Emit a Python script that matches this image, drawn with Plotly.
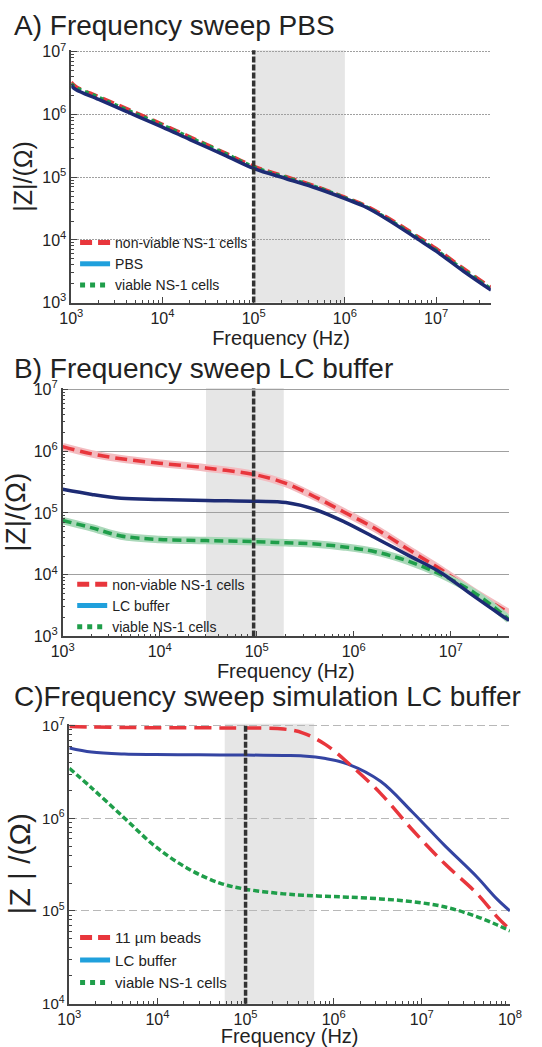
import plotly.graph_objects as go

# ---------------- data ----------------
# Panel A: Frequency sweep PBS
freq_a = [1e3, 1.12e3, 2e3, 4e3, 1e4, 2e4, 5e4, 1e5, 2.24e5, 5e5, 1e6, 1.6e6, 2.9e6, 6.5e6, 1e7, 2e7, 4e7]
za_nonviable = [3.3e6, 2.8e6, 1.93e6, 1.25e6, 7.0e5, 4.4e5, 2.4e5, 1.5e5, 1.03e5, 7.0e4, 4.8e4, 3.65e4, 2.3e4, 1.1e4, 7.3e3, 3.5e3, 1.75e3]
za_pbs = [2.88e6, 2.51e6, 1.74e6, 1.12e6, 6.31e5, 3.98e5, 2.19e5, 1.38e5, 9.55e4, 6.61e4, 4.57e4, 3.47e4, 2.14e4, 1.0e4, 6.61e3, 3.16e3, 1.58e3]
za_viable = [3.1e6, 2.7e6, 1.88e6, 1.2e6, 6.8e5, 4.3e5, 2.35e5, 1.46e5, 1.0e5, 6.9e4, 4.7e4, 3.55e4, 2.2e4, 1.05e4, 6.9e3, 3.35e3, 1.65e3]
shade_a = [1e5, 1e6]
marker_a = 1e5

# Panel B: Frequency sweep LC buffer
freq_b = [1e3, 2e3, 4e3, 1e4, 3e4, 1e5, 2e5, 4e5, 8e5, 1.7e6, 3.7e6, 8e6, 1.7e7, 3.2e7, 4e7]
zb_nonviable = [1.19e6, 9.06e5, 7.55e5, 6.41e5, 5.37e5, 4.12e5, 3.01e5, 1.82e5, 1.03e5, 5.5e4, 2.54e4, 1.2e4, 5.4e3, 2.95e3, 2.4e3]
zb_lc = [2.42e5, 2.0e5, 1.74e5, 1.66e5, 1.6e5, 1.55e5, 1.48e5, 1.14e5, 7.19e4, 3.89e4, 2.04e4, 1.07e4, 4.57e3, 2.29e3, 1.82e3]
zb_viable = [7.55e4, 5.75e4, 4.24e4, 3.72e4, 3.57e4, 3.43e4, 3.29e4, 3.14e4, 2.82e4, 2.34e4, 1.64e4, 1.0e4, 5.25e3, 2.51e3, 1.86e3]
shade_b = [3e4, 1.9e5]
marker_b = 9.3e4

# Panel C: Frequency sweep simulation LC buffer
freq_c = [1e3, 1.78e3, 4.2e3, 9.5e3, 2.2e4, 5.1e4, 1e5, 2.7e5, 4.5e5, 8.1e5, 1.45e6, 3.4e6, 7.8e6, 1.8e7, 4.2e7, 7.1e7, 1e8]
zc_beads = [9.77e6, 9.66e6, 9.55e6, 9.5e6, 9.48e6, 9.46e6, 9.44e6, 9.2e6, 8.32e6, 6.24e6, 3.98e6, 1.86e6, 7.52e5, 3.27e5, 1.55e5, 8.7e4, 6.3e4]
zc_lc = [5.74e6, 5.19e6, 4.94e6, 4.88e6, 4.85e6, 4.83e6, 4.82e6, 4.76e6, 4.71e6, 4.42e6, 3.85e6, 2.51e6, 1.17e6, 5.13e5, 2.34e5, 1.35e5, 1.0e5]
zc_viable = [3.47e6, 2.14e6, 1.01e6, 4.95e5, 2.88e5, 2.0e5, 1.72e5, 1.53e5, 1.48e5, 1.44e5, 1.41e5, 1.35e5, 1.26e5, 1.11e5, 8.7e4, 7.1e4, 6.1e4]
shade_c = [5.8e4, 6.0e5]
marker_c = 1e5

titles = ["A) Frequency sweep PBS", "B) Frequency sweep LC buffer", "C)Frequency sweep simulation LC buffer"]
legend_a = ["non-viable NS-1 cells", "PBS", "viable NS-1 cells"]
legend_b = ["non-viable NS-1 cells", "LC buffer", "viable NS-1 cells"]
legend_c = ["11 µm beads", "LC buffer", "viable NS-1 cells"]
x_exps_ab = [3, 4, 5, 6, 7]
x_exps_c = [3, 4, 5, 6, 7, 8]
y_exps_ab = [3, 4, 5, 6, 7]
y_exps_c = [4, 5, 6, 7]

# ---------------- styling ----------------
W, H = 542, 1047
FONT = "Liberation Sans, Arial, Helvetica, sans-serif"
RED = "#e8363c"
NAVY_A = "#1d2b74"
NAVY_C = "#3444a2"
GREEN = "#1f9e4a"
LEG_BLUE = "#20a0dc"
PINK_HALO = "#f3bcc0"
GREEN_HALO = "#aad8b9"
AXC = "#444444"


def px_x(p):
    return p / W


def px_y(p):
    return 1 - p / H


def sup_labels(exps):
    return [10.0 ** e for e in exps], ["10<sup>%d</sup>" % e for e in exps]


def minor_vals(lo, hi):
    return [k * 10.0 ** e for e in range(lo, hi) for k in range(2, 10)]


def xaxis(dom, rng, exps, lo, hi, anchor, standoff, size=16):
    tv, tt = sup_labels(exps)
    return dict(type="log", domain=dom, range=rng, anchor=anchor,
                tickmode="array", tickvals=tv, ticktext=tt,
                ticks="inside", ticklen=6, tickwidth=1, tickcolor=AXC,
                minor=dict(tickmode="array", tickvals=minor_vals(lo, hi), ticks="inside",
                           ticklen=3, tickcolor=AXC, showgrid=False),
                showline=True, linecolor=AXC, linewidth=1.5, showgrid=False,
                zeroline=False, tickfont=dict(family=FONT, size=size, color="#222"),
                title=dict(text="Frequency (Hz)", font=dict(family=FONT, size=20, color="#222"),
                           standoff=standoff))


def yaxis(dom, rng, exps, lo, hi, anchor, griddash, gridcolor, title, tsize, size=16):
    tv, tt = sup_labels(exps)
    return dict(type="log", domain=dom, range=rng, anchor=anchor,
                tickmode="array", tickvals=tv, ticktext=tt,
                ticks="inside", ticklen=6, tickwidth=1, tickcolor=AXC,
                minor=dict(tickmode="array", tickvals=minor_vals(lo, hi), ticks="inside",
                           ticklen=3, tickcolor=AXC, showgrid=False),
                showline=True, linecolor=AXC, linewidth=1.5,
                showgrid=True, gridcolor=gridcolor, gridwidth=1, griddash=griddash,
                zeroline=False, tickfont=dict(family=FONT, size=size, color="#222"),
                title=dict(text=title, font=dict(family=FONT, size=tsize, color="#222"),
                           standoff=3))


fig = go.Figure()


def add_line(x, y, xa, ya, color, width, dash, halo=None):
    if halo:
        fig.add_trace(go.Scatter(x=x, y=y, xaxis=xa, yaxis=ya, mode="lines",
                                 line=dict(color=halo, width=width + 4, shape="spline"),
                                 showlegend=False, hoverinfo="skip"))
    fig.add_trace(go.Scatter(x=x, y=y, xaxis=xa, yaxis=ya, mode="lines",
                             line=dict(color=color, width=width, dash=dash, shape="spline"),
                             showlegend=False))


def add_legend_proxies(names, legend, blue):
    styles = [(RED, "12px,6px"), (blue, "solid"), (GREEN, "5px,5px")]
    for name, (c, d) in zip(names, styles):
        fig.add_trace(go.Scatter(x=[None], y=[None], mode="lines", name=name,
                                 line=dict(color=c, width=5, dash=d), legend=legend))


# Panel A
add_line(freq_a, za_nonviable, "x", "y", RED, 3.5, "12px,6px")
add_line(freq_a, za_viable, "x", "y", GREEN, 3.5, "4px,4px")
add_line(freq_a, za_pbs, "x", "y", NAVY_A, 3.5, "solid")
add_legend_proxies(legend_a, "legend", LEG_BLUE)

# Panel B
add_line(freq_b, zb_nonviable, "x2", "y2", RED, 3.5, "12px,6px", halo=PINK_HALO)
add_line(freq_b, zb_viable, "x2", "y2", GREEN, 3.5, "9px,5px", halo=GREEN_HALO)
add_line(freq_b, zb_lc, "x2", "y2", NAVY_A, 3.5, "solid")
add_legend_proxies(legend_b, "legend2", LEG_BLUE)

# Panel C
add_line(freq_c, zc_lc, "x3", "y3", NAVY_C, 3, "solid")
add_line(freq_c, zc_beads, "x3", "y3", RED, 3.5, "17px,8px")
add_line(freq_c, zc_viable, "x3", "y3", GREEN, 3.5, "6px,3px")
add_legend_proxies(legend_c, "legend3", LEG_BLUE)

# geometry (pixels)
A_x, A_y = (62, 501), (41, 298)
B_x, B_y = (53, 520), (385, 638)
C_x, C_y = (60, 521), (727, 1012)

fig.update_layout(
    xaxis=xaxis([px_x(A_x[0]), px_x(A_x[1])], [3, 7.6], x_exps_ab, 3, 8, "y", 0),
    yaxis=yaxis([px_y(A_y[1]), px_y(A_y[0])], [3, 7.025], y_exps_ab, 3, 7, "x",
                "2px,1px", "#a0a0a0", "|Z|/(Ω)", 25),
    xaxis2=xaxis([px_x(B_x[0]), px_x(B_x[1])], [3, 7.6], x_exps_ab, 3, 8, "y2", 0),
    yaxis2=yaxis([px_y(B_y[1]), px_y(B_y[0])], [3, 7.025], y_exps_ab, 3, 7, "x2",
                 "solid", "#a0a0a0", "|Z|/(Ω)", 28),
    xaxis3=xaxis([px_x(C_x[0]), px_x(C_x[1])], [3, 8], x_exps_c, 3, 8, "y3", 0),
    yaxis3=yaxis([px_y(C_y[1]), px_y(C_y[0])], [4, 7.02], y_exps_c, 4, 7, "x3",
                 "8px,4px", "#b8b8b8", "|Z | /(Ω)", 30, size=15),
)

# shaded windows and marker lines
for (xr, yr, shade, mark) in [("x", "y", shade_a, marker_a), ("x2", "y2", shade_b, marker_b),
                              ("x3", "y3", shade_c, marker_c)]:
    fig.add_shape(type="rect", xref=xr, yref=yr + " domain", x0=shade[0], x1=shade[1], y0=0, y1=1,
                  fillcolor="#e6e6e6", line=dict(width=0), layer="below")
    fig.add_shape(type="line", xref=xr, yref=yr + " domain", x0=mark, x1=mark, y0=0, y1=1,
                  line=dict(color="#333333", width=3.5, dash="6px,2px"), layer="above")

# panel titles
for t, yc in zip(titles, [16, 365, 699]):
    fig.add_annotation(text=t, xref="paper", yref="paper", x=0, y=px_y(yc),
                       xanchor="left", yanchor="middle", showarrow=False,
                       font=dict(family=FONT, size=28, color="#222"))

leg_common = dict(bgcolor="rgba(0,0,0,0)", borderwidth=0, xanchor="left", yanchor="top",
                  tracegroupgap=0)
fig.update_layout(
    width=W, height=H, margin=dict(l=0, r=0, t=0, b=0),
    paper_bgcolor="white", plot_bgcolor="white", showlegend=True,
    legend=dict(x=px_x(66), y=px_y(221), font=dict(family=FONT, size=14, color="#222"), **leg_common),
    legend2=dict(x=px_x(63), y=px_y(569), font=dict(family=FONT, size=14, color="#222"), **leg_common),
    legend3=dict(x=px_x(66), y=px_y(928), font=dict(family=FONT, size=15, color="#222"), **leg_common),
)

fig.write_html("out.html", config={"displayModeBar": False},
               post_script="document.body.style.margin='0px';document.body.style.overflow='hidden';")
